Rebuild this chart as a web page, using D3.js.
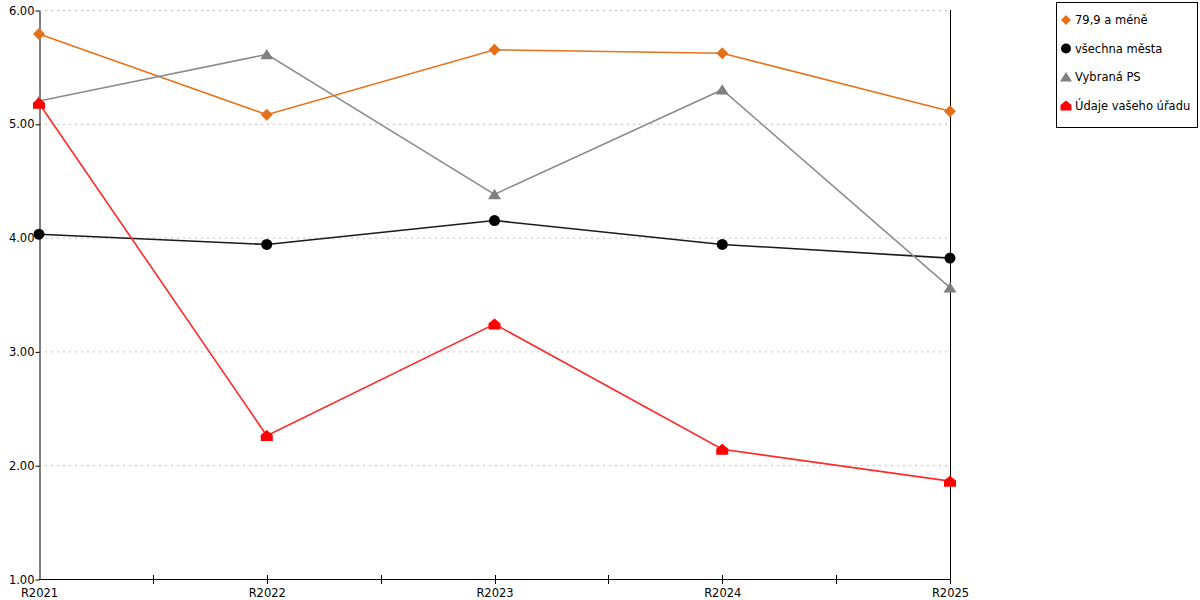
<!DOCTYPE html>
<html>
<head>
<meta charset="utf-8">
<script src="https://cdn.jsdelivr.net/npm/d3@7"></script>
<style>
  body { margin: 0; background: #fff; }
  text { font-family: "DejaVu Sans", Verdana, sans-serif; font-size: 11.5px; fill: #000; }
</style>
</head>
<body>
<div id="chart"></div>
<script>
// data
var categories = ['R2021', 'R2022', 'R2023', 'R2024', 'R2025'];
var seriesNames = ['79,9 a méně', 'všechna města', 'Vybraná PS', 'Údaje vašeho úřadu'];
var orangeValues = [5.79, 5.08, 5.65, 5.62, 5.11];
var blackValues = [4.03, 3.94, 4.15, 3.94, 3.82];
var grayValues = [5.20, 5.61, 4.38, 5.30, 3.56];
var redValues = [5.18, 2.26, 3.24, 2.14, 1.86];
var yTicks = [1, 2, 3, 4, 5, 6];

var width = 1200, height = 600;
var plotLeft = 39, plotRight = 950, plotTop = 10, plotBottom = 579;
var fontCss = '"DejaVu Sans", Verdana, sans-serif';

var series = [
  { name: seriesNames[0], values: orangeValues, line: '#e8731a', mark: '#e4701a', shape: 'diamond' },
  { name: seriesNames[1], values: blackValues, line: '#1a1a1a', mark: '#000', shape: 'circle' },
  { name: seriesNames[2], values: grayValues, line: '#8c8c8c', mark: '#808080', shape: 'triangle' },
  { name: seriesNames[3], values: redValues, line: '#ff2a2a', mark: '#ff0000', shape: 'house' }
];

var svg = d3.select('#chart').append('svg')
  .attr('width', width)
  .attr('height', height);

var x = d3.scalePoint().domain(categories).range([plotLeft, plotRight]);
var y = d3.scaleLinear().domain([1, 6]).range([plotBottom, plotTop]);

// grid lines
svg.append('g').selectAll('line')
  .data(yTicks.slice(1))
  .enter().append('line')
  .attr('x1', plotLeft).attr('x2', plotRight)
  .attr('y1', function (d) { return y(d) + 0.5; })
  .attr('y2', function (d) { return y(d) + 0.5; })
  .attr('stroke', '#bdbdbd')
  .attr('stroke-dasharray', '2,4');

// left axis
var yAxis = d3.axisLeft(y).tickValues(yTicks).tickFormat(d3.format('.2f')).tickSize(4).tickSizeOuter(0);
var gy = svg.append('g').attr('transform', 'translate(' + (plotLeft + 0.5) + ',0.5)').call(yAxis);
gy.select('.domain').attr('stroke', '#000');
gy.selectAll('text').attr('x', -5).style('font-family', fontCss).style('font-size', '11.5px');

// right line
svg.append('line')
  .attr('x1', plotRight + 0.5).attr('x2', plotRight + 0.5)
  .attr('y1', plotTop).attr('y2', plotBottom + 5)
  .attr('stroke', '#000');

// bottom axis
var xAxis = d3.axisBottom(x).tickSize(0).tickSizeOuter(0);
var gx = svg.append('g').attr('transform', 'translate(0,' + (plotBottom + 0.5) + ')').call(xAxis);
gx.select('.domain').attr('stroke', '#000').attr('d', 'M' + plotLeft + ',0H' + plotRight);
gx.selectAll('text').attr('y', 9).style('font-family', fontCss).style('font-size', '11.5px');

// small ticks at categories and between them
var step = x.step();
var tickPos = [];
categories.forEach(function (c, i) {
  if (i > 0 && i < categories.length - 1) tickPos.push(x(c));
  if (i < categories.length - 1) tickPos.push(x(c) + step / 2);
});
svg.append('g').selectAll('line')
  .data(tickPos)
  .enter().append('line')
  .attr('x1', function (d) { return Math.round(d) + 0.5; })
  .attr('x2', function (d) { return Math.round(d) + 0.5; })
  .attr('y1', plotBottom - 4).attr('y2', plotBottom + 5)
  .attr('stroke', '#000');

function shapePath(shape, s) {
  if (shape === 'diamond') return 'M0,' + (-s) + 'L' + s + ',0L0,' + s + 'L' + (-s) + ',0Z';
  if (shape === 'triangle') return 'M0,' + (-s) + 'L' + (s + 1) + ',' + (s * 0.9) + 'L' + (-s - 1) + ',' + (s * 0.9) + 'Z';
  if (shape === 'house') return 'M0,' + (-s) + 'L' + (s + 0.5) + ',' + (-s * 0.1) + 'L' + (s + 0.5) + ',' + s + 'L' + (-s - 0.5) + ',' + s + 'L' + (-s - 0.5) + ',' + (-s * 0.1) + 'Z';
  return null;
}

var line = d3.line()
  .x(function (d, i) { return x(categories[i]); })
  .y(function (d) { return y(d); });

series.forEach(function (s) {
  var g = svg.append('g');
  g.append('path')
    .attr('d', line(s.values))
    .attr('fill', 'none')
    .attr('stroke', s.line)
    .attr('stroke-width', 1.6);
  var pts = g.selectAll('.pt')
    .data(s.values)
    .enter();
  if (s.shape === 'circle') {
    pts.append('circle')
      .attr('cx', function (d, i) { return x(categories[i]); })
      .attr('cy', function (d) { return y(d); })
      .attr('r', 5.5)
      .attr('fill', s.mark);
  } else {
    pts.append('path')
      .attr('transform', function (d, i) { return 'translate(' + x(categories[i]) + ',' + y(d) + ')'; })
      .attr('d', shapePath(s.shape, s.shape === 'diamond' ? 6 : 5.5))
      .attr('fill', s.mark);
  }
});

// legend
var legend = svg.append('g').attr('transform', 'translate(1056,2)');
legend.append('rect')
  .attr('x', 0.5).attr('y', 0.5)
  .attr('width', 141).attr('height', 125)
  .attr('fill', '#fff').attr('stroke', '#000');
var item = legend.selectAll('.item')
  .data(series)
  .enter().append('g')
  .attr('transform', function (d, i) { return 'translate(10,' + (18 + i * 28.5) + ')'; });
item.each(function (d) {
  var g = d3.select(this);
  if (d.shape === 'circle') {
    g.append('circle').attr('r', 5).attr('fill', d.mark);
  } else {
    g.append('path').attr('d', shapePath(d.shape, 5)).attr('fill', d.mark);
  }
});
item.append('text')
  .attr('x', 9)
  .attr('dy', '0.35em')
  .text(function (d) { return d.name; });
</script>
</body>
</html>
